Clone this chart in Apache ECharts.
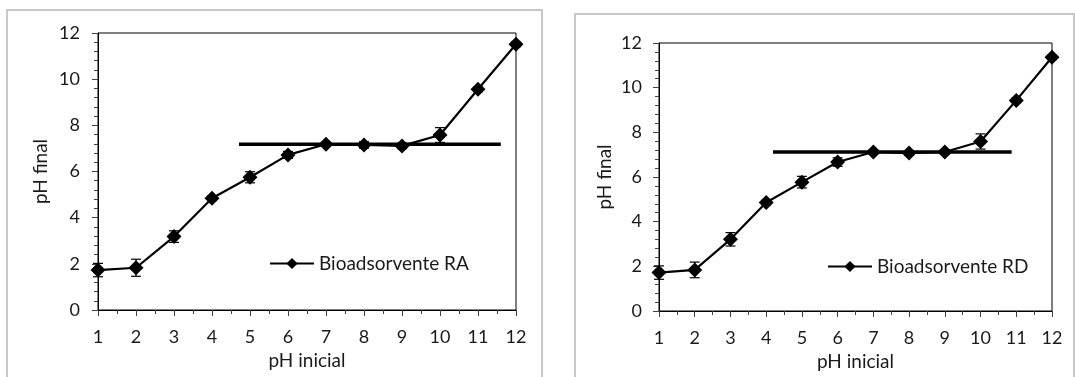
<!DOCTYPE html>
<html>
<head>
<meta charset="utf-8">
<script src="https://cdn.jsdelivr.net/npm/echarts@6/dist/echarts.min.js"></script>
<style>
  html, body { margin: 0; padding: 0; background: #fff; }
  #chart { width: 1075px; height: 377px; }
</style>
</head>
<body>
<div id="chart"></div>
<script>
// ---- data ----
const phInicial = [1, 2, 3, 4, 5, 6, 7, 8, 9, 10, 11, 12];
const raFinal = [1.73, 1.83, 3.18, 4.84, 5.75, 6.72, 7.18, 7.15, 7.11, 7.58, 9.56, 11.51];
const raErr   = [0.29, 0.37, 0.25, 0.10, 0.24, 0.15, 0.08, 0.14, 0.12, 0.32, 0.10, 0.10];
const rdFinal = [1.72, 1.84, 3.21, 4.86, 5.77, 6.67, 7.12, 7.07, 7.12, 7.59, 9.43, 11.36];
const rdErr   = [0.30, 0.35, 0.30, 0.10, 0.26, 0.19, 0.08, 0.10, 0.10, 0.34, 0.10, 0.10];
const raPlateauX = [4.71, 11.6];
const raPlateauY = 7.18;
const rdPlateauX = [4.19, 10.87];
const rdPlateauY = 7.12;
const yTicks = [0, 2, 4, 6, 8, 10, 12];
const seriesNames = ['Bioadsorvente RA', 'Bioadsorvente RD'];
const xTitle = 'pH inicial';
const yTitle = 'pH final';

const FONT = 'Lato, "Open Sans", sans-serif';
const TXT = '#1a1a1a';

function pairs(xs, ys) { return xs.map((x, i) => [x, ys[i]]); }
function errData(xs, ys, es) { return xs.map((x, i) => [x, ys[i], es[i]]); }

function errSeries(idx, xs, ys, es) {
  return {
    type: 'custom', xAxisIndex: idx, yAxisIndex: idx, z: 3, silent: true,
    data: errData(xs, ys, es),
    encode: { x: 0, y: 1 },
    renderItem: function (params, api) {
      const x = api.value(0), y = api.value(1), e = api.value(2);
      const top = api.coord([x, y + e]);
      const bot = api.coord([x, y - e]);
      const cw = 5;
      const st = { stroke: '#000', lineWidth: 1.2 };
      return {
        type: 'group',
        children: [
          { type: 'line', shape: { x1: top[0], y1: top[1], x2: bot[0], y2: bot[1] }, style: st },
          { type: 'line', shape: { x1: top[0] - cw, y1: top[1], x2: top[0] + cw, y2: top[1] }, style: st },
          { type: 'line', shape: { x1: bot[0] - cw, y1: bot[1], x2: bot[0] + cw, y2: bot[1] }, style: st }
        ]
      };
    }
  };
}

function lineSeries(idx, name, xs, ys) {
  return {
    type: 'line', name: name, xAxisIndex: idx, yAxisIndex: idx, z: 5,
    data: pairs(xs, ys),
    symbol: 'diamond', symbolSize: 15,
    itemStyle: { color: '#000' },
    lineStyle: { color: '#000', width: 2.2 }
  };
}

function plateauSeries(idx, xr, y) {
  return {
    type: 'line', xAxisIndex: idx, yAxisIndex: idx, z: 2, silent: true,
    data: xr.map(x => [x, y]), symbol: 'none',
    lineStyle: { color: '#000', width: 3.5 }
  };
}

function xAxisCfg(idx, nameGap) {
  return {
    type: 'value', gridIndex: idx, min: phInicial[0], max: phInicial[phInicial.length - 1], interval: 1,
    name: xTitle, nameLocation: 'middle', nameGap: nameGap,
    nameTextStyle: { fontFamily: FONT, fontSize: 19, color: TXT },
    axisLine: { show: true, lineStyle: { color: '#000', width: 1 } },
    axisTick: { show: true, length: 6, lineStyle: { color: '#404040' } },
    minorTick: { show: true, splitNumber: 2, length: 4, lineStyle: { color: '#404040' } },
    splitLine: { show: false },
    axisLabel: { fontFamily: FONT, fontSize: 18, color: TXT, margin: 18 }
  };
}

function yAxisCfg(idx, nameGap, margin) {
  return {
    type: 'value', gridIndex: idx, min: yTicks[0], max: yTicks[yTicks.length - 1], interval: yTicks[1] - yTicks[0],
    name: yTitle, nameLocation: 'middle', nameGap: nameGap,
    nameTextStyle: { fontFamily: FONT, fontSize: 19, color: TXT },
    axisLine: { show: true, lineStyle: { color: '#000', width: 1 } },
    axisTick: { show: true, length: 6, lineStyle: { color: '#404040' } },
    minorTick: { show: true, splitNumber: 5, length: 4, lineStyle: { color: '#404040' } },
    splitLine: { show: false },
    axisLabel: { fontFamily: FONT, fontSize: 18, color: TXT, margin: margin }
  };
}

const chart = echarts.init(document.getElementById('chart'), null, { renderer: 'canvas' });
chart.setOption({
  backgroundColor: '#fff',
  animation: false,
  graphic: [
    { type: 'rect', z: -10, shape: { x: 7, y: 10, width: 535, height: 420 }, style: { fill: '#fff', stroke: '#c8c8c8', lineWidth: 2 } },
    { type: 'rect', z: -10, shape: { x: 575, y: 14, width: 499, height: 420 }, style: { fill: '#fff', stroke: '#c8c8c8', lineWidth: 2 } }
  ],
  grid: [
    { left: 98, top: 33, width: 418, height: 277, show: true, borderColor: '#000', borderWidth: 1, backgroundColor: 'transparent' },
    { left: 659, top: 43, width: 393, height: 268, show: true, borderColor: '#000', borderWidth: 1, backgroundColor: 'transparent' }
  ],
  xAxis: [xAxisCfg(0, 36), xAxisCfg(1, 40)],
  yAxis: [yAxisCfg(0, 48, 18), yAxisCfg(1, 45, 17)],
  legend: [
    { data: [seriesNames[0]], left: 269, top: 254, padding: 0, itemWidth: 44, itemHeight: 14, itemGap: 5,
      textStyle: { fontFamily: FONT, fontSize: 19, color: TXT } },
    { data: [seriesNames[1]], left: 827, top: 257, padding: 0, itemWidth: 44, itemHeight: 14, itemGap: 5,
      textStyle: { fontFamily: FONT, fontSize: 19, color: TXT } }
  ],
  series: [
    plateauSeries(0, raPlateauX, raPlateauY),
    errSeries(0, phInicial, raFinal, raErr),
    lineSeries(0, seriesNames[0], phInicial, raFinal),
    plateauSeries(1, rdPlateauX, rdPlateauY),
    errSeries(1, phInicial, rdFinal, rdErr),
    lineSeries(1, seriesNames[1], phInicial, rdFinal)
  ]
});
</script>
</body>
</html>
